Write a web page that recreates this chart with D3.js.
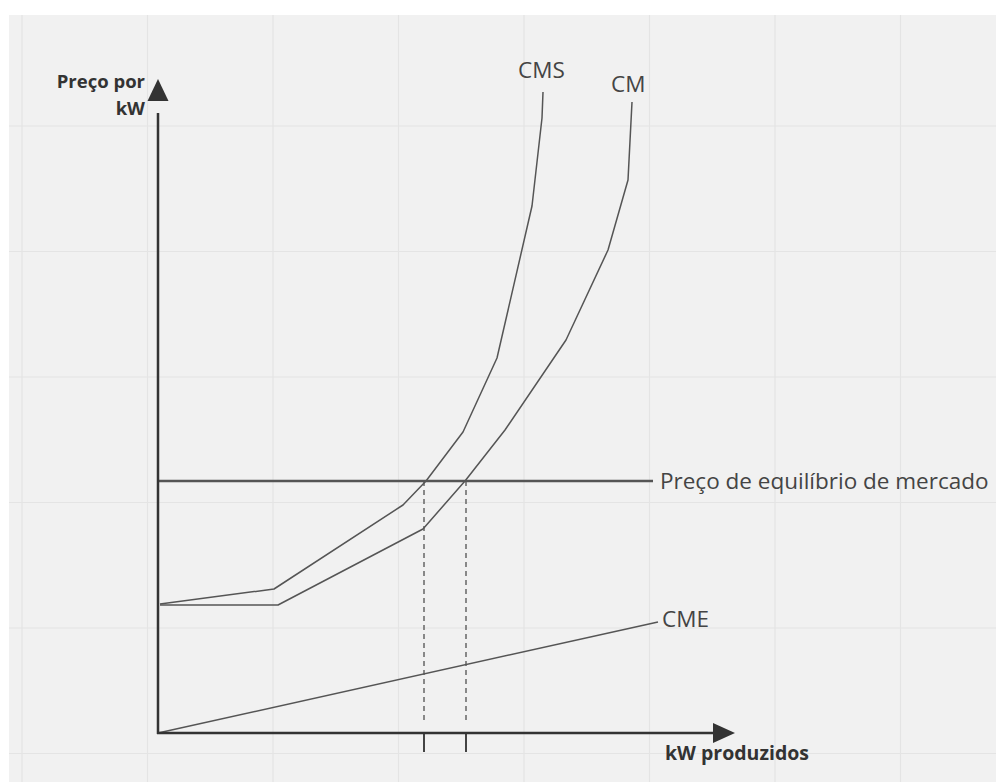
<!DOCTYPE html>
<html><head><meta charset="utf-8">
<script src="https://cdn.jsdelivr.net/npm/d3@7"></script>
<style>
html,body{margin:0;padding:0;background:#fff;}
svg{display:block;}
text{font-family:"Open Sans",sans-serif;}
</style></head>
<body>
<svg id="c" width="996" height="782"></svg>
<script>
// ---- data (abstract units: quantity, price) ----
const cmsQ = [2, 116, 245, 268, 305, 339, 374, 384, 385];
const cmsP = [129, 144, 228, 252, 301, 375, 527, 615, 641];
const cmQ  = [2, 120, 265, 307, 347, 408, 450, 470, 474];
const cmP  = [128, 128, 204, 252, 303, 393, 483, 553, 631];
const cmeQ = [0, 500];
const cmeP = [0, 111];
const eqPrice = 252;
const eqPriceEnd = 495;
const eqQuantities = [266, 308];
const curveLabels = ["CMS", "CM", "CME"];
const eqLabel = "Preço de equilíbrio de mercado";
const yAxisLabel = ["Preço por", "kW"];
const xAxisLabel = "kW produzidos";

const svg = d3.select("#c");
const x = d3.scaleLinear().domain([0, 600]).range([158, 758]);
const y = d3.scaleLinear().domain([0, 650]).range([733, 83]);

// background + grid
svg.append("rect").attr("x", 9).attr("y", 15).attr("width", 987).attr("height", 767).attr("fill", "#f1f1f1");
const g = svg.append("g").attr("stroke", "#e4e4e4").attr("stroke-width", 1.2);
d3.range(22, 996, 125.5).forEach(px => g.append("line").attr("x1", px).attr("x2", px).attr("y1", 15).attr("y2", 782));
d3.range(126, 782, 125.5).forEach(py => g.append("line").attr("x1", 9).attr("x2", 996).attr("y1", py).attr("y2", py));

const line = d3.line().x(d => x(d[0])).y(d => y(d[1]));
const zip = (a, b) => a.map((v, i) => [v, b[i]]);

// dashed guides
eqQuantities.forEach(q => {
  svg.append("line").attr("x1", x(q)).attr("x2", x(q)).attr("y1", y(eqPrice)).attr("y2", y(0) - 10)
    .attr("stroke", "#666").attr("stroke-width", 1.5).attr("stroke-dasharray", "5,4");
  svg.append("line").attr("x1", x(q)).attr("x2", x(q)).attr("y1", y(0)).attr("y2", y(0) + 19)
    .attr("stroke", "#444").attr("stroke-width", 2);
});

// curves
[[cmsQ, cmsP], [cmQ, cmP], [cmeQ, cmeP]].forEach(([q, p]) => {
  svg.append("path").attr("d", line(zip(q, p))).attr("fill", "none")
    .attr("stroke", "#555").attr("stroke-width", 1.5).attr("stroke-linejoin", "round");
});

// equilibrium line
svg.append("line").attr("x1", x(0)).attr("x2", x(eqPriceEnd)).attr("y1", y(eqPrice)).attr("y2", y(eqPrice))
  .attr("stroke", "#555").attr("stroke-width", 2.5);

// axes
svg.append("line").attr("x1", x(0)).attr("x2", x(0)).attr("y1", y(0) + 1).attr("y2", y(620))
  .attr("stroke", "#333").attr("stroke-width", 2.5);
svg.append("path").attr("d", `M${x(0)},${y(654)} L${x(0) - 10.5},${y(632)} L${x(0) + 10.5},${y(632)} Z`).attr("fill", "#333");
svg.append("line").attr("x1", x(0) - 1).attr("x2", x(560)).attr("y1", y(0)).attr("y2", y(0))
  .attr("stroke", "#333").attr("stroke-width", 2.5);
svg.append("path").attr("d", `M${x(577)},${y(0)} L${x(555)},${y(0) - 10} L${x(555)},${y(0) + 10} Z`).attr("fill", "#333");

// labels
const tc = "#444";
svg.append("text").attr("x", 518).attr("y", 78).attr("font-size", 22.5).attr("fill", tc).text(curveLabels[0]);
svg.append("text").attr("x", 611).attr("y", 92).attr("font-size", 22.5).attr("fill", tc).text(curveLabels[1]);
svg.append("text").attr("x", 662).attr("y", 627).attr("font-size", 22.5).attr("fill", tc).text(curveLabels[2]);
svg.append("text").attr("x", 660).attr("y", 489).attr("font-size", 22.5).attr("fill", tc).text(eqLabel);
const yl = svg.append("text").attr("text-anchor", "end").attr("font-size", 18.5).attr("font-weight", "bold").attr("fill", "#333");
yl.append("tspan").attr("x", 145).attr("y", 88).text(yAxisLabel[0]);
yl.append("tspan").attr("x", 145).attr("y", 115).text(yAxisLabel[1]);
svg.append("text").attr("x", 665).attr("y", 760).attr("font-size", 19.5).attr("font-weight", "bold").attr("fill", "#333").text(xAxisLabel);
</script>
</body></html>
